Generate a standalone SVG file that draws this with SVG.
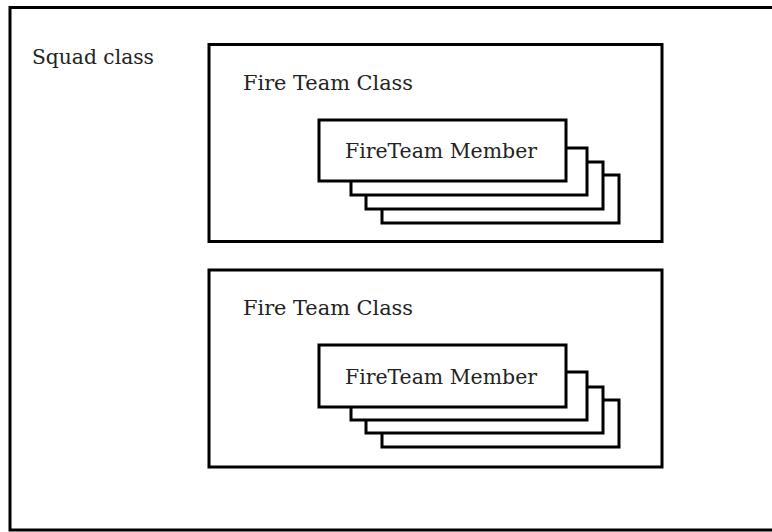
<svg xmlns="http://www.w3.org/2000/svg" width="772" height="532" viewBox="0 0 772 532">
<style>
.box{fill:#fff;stroke:#000;stroke-width:3}
.t{font-family:"DejaVu Serif","Liberation Serif",serif;font-size:20px;fill:#222}
</style>
<rect width="772" height="532" fill="#fff"/>
<g id="squad">
<rect class="box" x="10" y="7.5" width="770" height="522.5"/>
<text class="t" x="32" y="64" textLength="122" lengthAdjust="spacingAndGlyphs">Squad class</text>
</g>
<g id="fireteam1">
<rect class="box" x="209" y="44.5" width="453" height="197"/>
<text class="t" x="243" y="90" textLength="170" lengthAdjust="spacingAndGlyphs">Fire Team Class</text>
</g>
<g id="members1">
<rect class="box" x="382" y="175" width="237" height="48"/>
<rect class="box" x="366" y="162" width="237" height="47"/>
<rect class="box" x="351" y="148" width="236" height="47"/>
<rect class="box" x="319" y="120" width="247" height="61"/>
<text class="t" x="345" y="158" textLength="192" lengthAdjust="spacingAndGlyphs">FireTeam Member</text>
</g>
<g id="fireteam2">
<rect class="box" x="209" y="270" width="453" height="197"/>
<text class="t" x="243" y="315" textLength="170" lengthAdjust="spacingAndGlyphs">Fire Team Class</text>
</g>
<g id="members2">
<rect class="box" x="382" y="400" width="237" height="47"/>
<rect class="box" x="366" y="387" width="237" height="46"/>
<rect class="box" x="351" y="372" width="236" height="48"/>
<rect class="box" x="319" y="345" width="247" height="62"/>
<text class="t" x="345" y="384" textLength="192" lengthAdjust="spacingAndGlyphs">FireTeam Member</text>
</g>
<g id="connectors"></g>
</svg>
